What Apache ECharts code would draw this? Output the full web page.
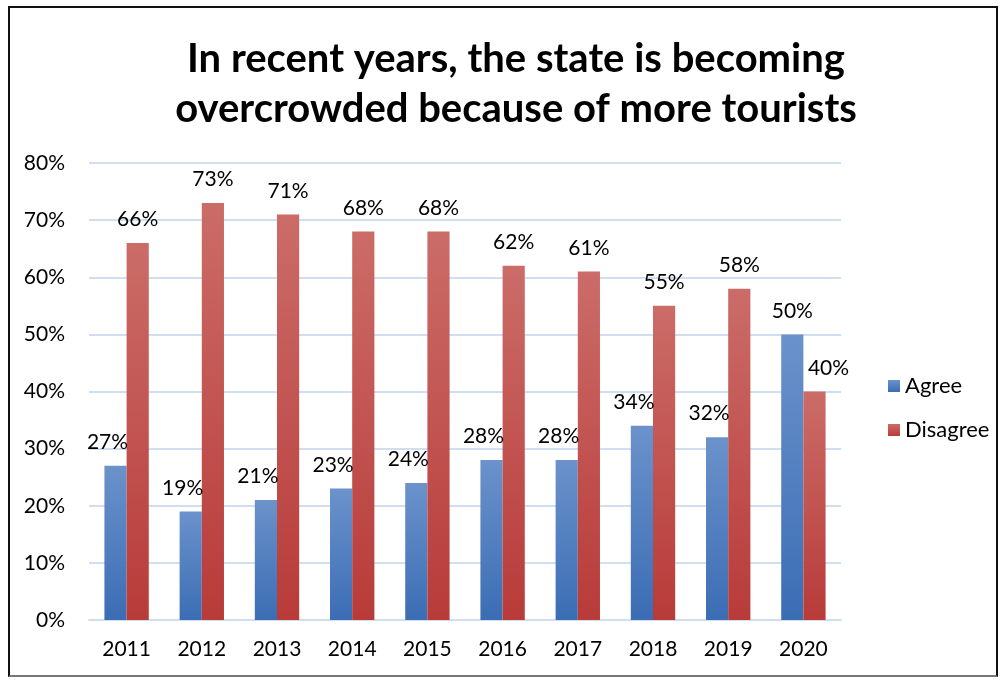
<!DOCTYPE html>
<html>
<head>
<meta charset="utf-8">
<script src="https://cdn.jsdelivr.net/npm/echarts@6/dist/echarts.min.js"></script>
<style>
  html, body { margin: 0; padding: 0; background: #fff; }
  #frame { position: absolute; left: 8px; top: 6px; width: 990px; height: 671px; border: 2px solid #111; border-bottom-color: #777; box-sizing: border-box; }
  #chart { position: absolute; left: 0; top: 0; width: 1002px; height: 681px; }
</style>
</head>
<body>
<div id="frame"></div>
<div id="chart"></div>
<script>
// 数据
const years = ['2011', '2012', '2013', '2014', '2015', '2016', '2017', '2018', '2019', '2020']
const agree = [27, 19, 21, 23, 24, 28, 28, 34, 32, 50]
const disagree = [66, 73, 71, 68, 68, 62, 61, 55, 58, 40]
const yTicks = ['0%', '10%', '20%', '30%', '40%', '50%', '60%', '70%', '80%']

const font = 'Lato, "Open Sans", sans-serif'

const grad = (top, bottom) => new echarts.graphic.LinearGradient(0, 0, 0, 1, [
  { offset: 0, color: top },
  { offset: 1, color: bottom }
])

// 最后一组的标签位置稍有不同
const last = years.length - 1
const withLabelShift = (arr, shift) => arr.map((v, i) =>
  i === last ? { value: v, label: { offset: shift } } : v)

const chart = echarts.init(document.getElementById('chart'))
const option = {
  animation: false,
  textStyle: { fontFamily: font },
  title: {
    text: 'In recent years, the state is becoming\novercrowded because of more tourists',
    left: 511,
    top: 29,
    textAlign: 'center',
    textStyle: { fontSize: 40, fontWeight: 'bold', color: '#000', lineHeight: 50, fontFamily: font }
  },
  legend: {
    orient: 'vertical',
    left: 883,
    top: 370,
    itemWidth: 12,
    itemHeight: 12,
    itemGap: 22,
    icon: 'rect',
    textStyle: { fontSize: 22, color: '#000', fontFamily: font }
  },
  grid: { left: 89, right: 161, top: 163, bottom: 61 },
  xAxis: {
    type: 'category',
    data: years,
    axisLine: { lineStyle: { color: '#d0dff0', width: 2 } },
    axisTick: { show: false },
    axisLabel: { fontSize: 21, color: '#000', margin: 19 }
  },
  yAxis: {
    type: 'value',
    min: 0,
    max: 80,
    interval: 10,
    axisLine: { show: false },
    axisTick: { show: false },
    splitLine: { lineStyle: { color: '#d0dff0', width: 2 } },
    axisLabel: {
      fontSize: 21, color: '#000', margin: 24,
      formatter: v => yTicks[v / 10]
    }
  },
  series: [
    {
      name: 'Agree',
      type: 'bar',
      data: withLabelShift(agree, [0, 0]),
      barGap: '0%',
      barCategoryGap: '41%',
      itemStyle: { color: grad('#6b92cb', '#3b6db4') },
      label: {
        show: true, position: 'top', distance: 13, offset: [-8, 0],
        formatter: '{c}%', fontSize: 21, color: '#000'
      }
    },
    {
      name: 'Disagree',
      type: 'bar',
      data: withLabelShift(disagree, [14, 0]),
      itemStyle: { color: grad('#cb6c68', '#b83b39') },
      label: {
        show: true, position: 'top', distance: 13,
        formatter: '{c}%', fontSize: 21, color: '#000'
      }
    }
  ]
}
option && chart.setOption(option)
</script>
</body>
</html>
